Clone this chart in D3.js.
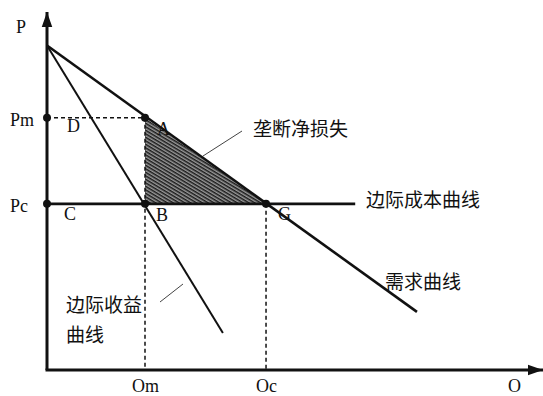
<!DOCTYPE html>
<meta charset="utf-8">
<style>
body { margin: 0; background: #fff; }
.lat { font-family: "Liberation Serif", "Times New Roman", serif; font-size: 18px; fill: #111; }
.cjk { font-family: "Noto Sans CJK SC", sans-serif; font-size: 19px; fill: #111; }
</style>
<body>
<script src="https://cdn.jsdelivr.net/npm/d3@7"></script>
<script>

var width = 543,
  height = 396;

// values (Q on x, P on y)
var demand = [{q: 0, p: 10}, {q: 7.55, p: 1.79}];
var mr = [{q: 0, p: 10}, {q: 3.59, p: 1.14}];
var mcQ = [0, 6.29];
var Pm = 7.77, Pc = 5.12;
var Om = 2.0, Oc = 4.47;
var xTicks = [Om, Oc], xTickLabels = ["Om", "Oc"];
var yTicks = [Pm, Pc], yTickLabels = ["Pm", "Pc"];
var points = [
  {q: 0, p: Pm, name: "D"},
  {q: Om, p: Pm, name: "A"},
  {q: 0, p: Pc, name: "C"},
  {q: Om, p: Pc, name: "B"},
  {q: Oc, p: Pc, name: "G"}
];

var x = d3.scaleLinear().domain([0, 10]).range([47, 537]);
var y = d3.scaleLinear().domain([0, 11]).range([370, 13]);

var svg = d3.select("body").append("svg")
  .attr("width", width)
  .attr("height", height);

var defs = svg.append("defs");
defs.append("marker")
  .attr("id", "arrow")
  .attr("viewBox", "0 -5 10 10")
  .attr("refX", 10)
  .attr("refY", 0)
  .attr("markerWidth", 5)
  .attr("markerHeight", 5)
  .attr("markerUnits", "strokeWidth")
  .attr("orient", "auto")
  .append("path")
  .attr("d", "M0,-3.5L10,0L0,3.5Z")
  .attr("fill", "#111");

var pat = defs.append("pattern")
  .attr("id", "hatch")
  .attr("patternUnits", "userSpaceOnUse")
  .attr("width", 3)
  .attr("height", 3)
  .attr("patternTransform", "rotate(31)");
pat.append("rect").attr("width", 3).attr("height", 3).attr("fill", "#999");
pat.append("line")
  .attr("x1", 0).attr("y1", 0.5).attr("x2", 3).attr("y2", 0.5)
  .attr("stroke", "#1a1a1a").attr("stroke-width", 2);

var line = d3.line().x(function(d) { return x(d.q); }).y(function(d) { return y(d.p); });

// deadweight loss triangle A-B-G
svg.append("path")
  .attr("d", line([{q: Om, p: Pm}, {q: Om, p: Pc}, {q: Oc, p: Pc}]) + "Z")
  .attr("fill", "url(#hatch)");

// dashed guides
var dash = svg.append("g").attr("stroke", "#111").attr("stroke-width", 1.5).attr("stroke-dasharray", "4,3");
dash.append("line").attr("x1", x(0)).attr("y1", y(Pm)).attr("x2", x(Om)).attr("y2", y(Pm));
dash.append("line").attr("x1", x(Om)).attr("y1", y(Pm)).attr("x2", x(Om)).attr("y2", y(0));
dash.append("line").attr("x1", x(Oc)).attr("y1", y(Pc)).attr("x2", x(Oc)).attr("y2", y(0));

// curves
svg.append("path").attr("d", line(demand)).attr("stroke", "#111").attr("stroke-width", 2.6).attr("fill", "none");
svg.append("path").attr("d", line(mr)).attr("stroke", "#111").attr("stroke-width", 2).attr("fill", "none");
svg.append("line")
  .attr("x1", x(mcQ[0])).attr("y1", y(Pc)).attr("x2", x(mcQ[1])).attr("y2", y(Pc))
  .attr("stroke", "#111").attr("stroke-width", 2.6);

// axes with arrows
svg.append("line")
  .attr("x1", x(0)).attr("y1", y(0)).attr("x2", x(0)).attr("y2", 12)
  .attr("stroke", "#111").attr("stroke-width", 3).attr("marker-end", "url(#arrow)");
svg.append("line")
  .attr("x1", x(0) - 1.5).attr("y1", y(0)).attr("x2", 543).attr("y2", y(0))
  .attr("stroke", "#111").attr("stroke-width", 3).attr("marker-end", "url(#arrow)");

var xAxis = svg.append("g")
  .attr("transform", "translate(0," + y(0) + ")")
  .call(d3.axisBottom(x).tickValues(xTicks).tickFormat(function(d, i) { return xTickLabels[i]; }).tickSize(0).tickPadding(9));
xAxis.select(".domain").remove();
xAxis.selectAll("text").attr("class", "lat");
xAxis.attr("font-family", null).attr("font-size", null);

var yAxis = svg.append("g")
  .attr("transform", "translate(" + x(0) + ",0)")
  .call(d3.axisLeft(y).tickValues(yTicks).tickFormat(function(d, i) { return yTickLabels[i]; }).tickSize(0));
yAxis.select(".domain").remove();
yAxis.selectAll("text").attr("class", "lat").attr("text-anchor", "start").attr("x", -37).attr("dy", "0.4em");
yAxis.attr("font-family", null).attr("font-size", null);

svg.append("text").attr("class", "lat").attr("x", 16).attr("y", 33).text("P");
svg.append("text").attr("class", "lat").attr("x", 508).attr("y", 392).text("O");

// dots and point labels
svg.selectAll(".dot").data(points).enter().append("circle")
  .attr("class", "dot")
  .attr("cx", function(d) { return x(d.q); })
  .attr("cy", function(d) { return y(d.p); })
  .attr("r", 4)
  .attr("fill", "#111");

var offs = {D: [20, 14], A: [12, 17], C: [17, 16], B: [11, 17], G: [12, 16]};
svg.selectAll(".plab").data(points).enter().append("text")
  .attr("class", "lat")
  .attr("x", function(d) { return x(d.q) + offs[d.name][0]; })
  .attr("y", function(d) { return y(d.p) + offs[d.name][1]; })
  .text(function(d) { return d.name; });

// annotations
svg.append("text").attr("class", "cjk").attr("x", 253).attr("y", 136).text("垄断净损失");
svg.append("line").attr("x1", 242).attr("y1", 131).attr("x2", 203).attr("y2", 156).attr("stroke", "#444").attr("stroke-width", 1);
svg.append("text").attr("class", "cjk").attr("x", 366).attr("y", 207).text("边际成本曲线");
svg.append("text").attr("class", "cjk").attr("x", 385).attr("y", 289).text("需求曲线");
svg.append("text").attr("class", "cjk").attr("x", 66).attr("y", 312).text("边际收益");
svg.append("text").attr("class", "cjk").attr("x", 66).attr("y", 342).text("曲线");
svg.append("line").attr("x1", 160).attr("y1", 302).attr("x2", 183).attr("y2", 284).attr("stroke", "#444").attr("stroke-width", 1);

</script>
</body>
